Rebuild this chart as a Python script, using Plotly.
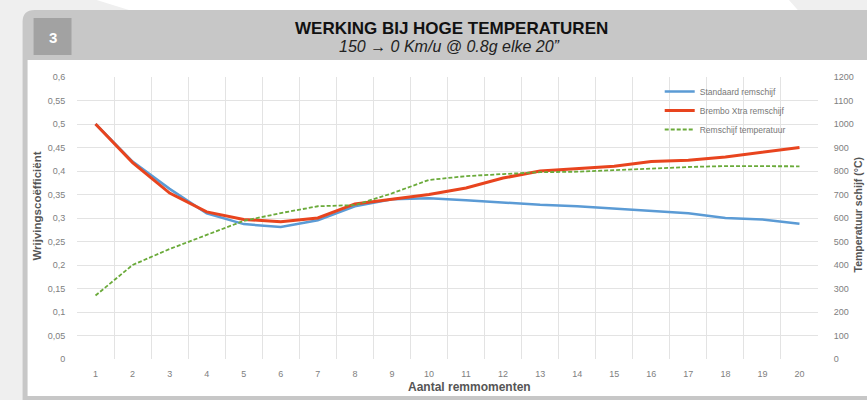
import plotly.graph_objects as go

# ---- data ----
remmomenten = list(range(1, 21))
standaard = [0.50, 0.42, 0.362, 0.31, 0.287, 0.281, 0.295, 0.325, 0.34, 0.342,
             0.338, 0.333, 0.328, 0.325, 0.32, 0.316, 0.31, 0.30, 0.297, 0.288]
brembo = [0.50, 0.418, 0.353, 0.313, 0.297, 0.292, 0.30, 0.33, 0.34, 0.35,
          0.364, 0.385, 0.40, 0.405, 0.41, 0.42, 0.423, 0.43, 0.44, 0.45]
temperatuur = [270, 400, 468, 528, 588, 621, 650, 655, 705, 762,
               778, 787, 795, 797, 804, 812, 817, 821, 821, 820]

left_tickvals = [0, 0.05, 0.1, 0.15, 0.2, 0.25, 0.3, 0.35, 0.4, 0.45, 0.5, 0.55, 0.6]
left_ticktext = ["0", "0,05", "0,1", "0,15", "0,2", "0,25", "0,3", "0,35", "0,4",
                 "0,45", "0,5", "0,55", "0,6"]
right_tickvals = list(range(0, 1300, 100))

W, H = 867, 400
L, R, T, B = 76.5, 818.5, 77, 359


def px(x):
    return (x - L) / (R - L)


def py(y):
    return (B - y) / (B - T)


fig = go.Figure()
fig.add_trace(go.Scatter(x=remmomenten, y=standaard, mode="lines", name="Standaard remschijf",
                         line=dict(color="#5b9bd5", width=2.5)))
fig.add_trace(go.Scatter(x=remmomenten, y=brembo, mode="lines", name="Brembo Xtra remschijf",
                         line=dict(color="#e8441e", width=3)))
fig.add_trace(go.Scatter(x=remmomenten, y=temperatuur, mode="lines", name="Remschijf temperatuur",
                         line=dict(color="#6aaa3a", width=1.8, dash="4px,2px"), yaxis="y2"))

shapes = [
    dict(type="path", xref="paper", yref="paper", layer="below",
         path=f"M {px(80)} {py(-5)} L {px(785)} {py(-5)} L {px(800)} {py(12)} L {px(135)} {py(12)} Z",
         fillcolor="#ffffff", line=dict(width=0)),
    dict(type="path", xref="paper", yref="paper", layer="below",
         path=(f"M {px(22)} {py(405)} L {px(22)} {py(22)} Q {px(22)} {py(10)} {px(34)} {py(10)} "
               f"L {px(870)} {py(10)} L {px(870)} {py(405)} Z"),
         fillcolor="#c7c7c7", line=dict(width=0)),
    dict(type="rect", xref="paper", yref="paper", layer="below",
         x0=px(27), x1=px(870), y0=py(396), y1=py(60),
         fillcolor="#ffffff", line=dict(width=0)),
    dict(type="rect", xref="paper", yref="paper", layer="below",
         x0=px(33), x1=px(71), y0=py(55), y1=py(18),
         fillcolor="#a2a2a2", line=dict(width=0)),
]

annotations = [
    dict(text="<b>3</b>", x=px(52), y=py(37), xref="paper", yref="paper", showarrow=False,
         xanchor="center", yanchor="middle",
         font=dict(family="Liberation Sans", size=15, color="#ffffff")),
    dict(text="<b>WERKING BIJ HOGE TEMPERATUREN</b>", x=px(452), y=py(28), xref="paper", yref="paper",
         showarrow=False, xanchor="center", yanchor="middle",
         font=dict(family="Liberation Sans", size=17, color="#111111")),
    dict(text="<i>150 → 0 Km/u @ 0.8g elke 20”</i>", x=px(450), y=py(46), xref="paper", yref="paper",
         showarrow=False, xanchor="center", yanchor="middle",
         font=dict(family="Liberation Sans", size=16, color="#222222")),
    dict(text="<b>Wrijvingscoëfficiënt</b>", x=px(36), y=py(206), xref="paper", yref="paper",
         showarrow=False, textangle=-90, xanchor="center", yanchor="middle",
         font=dict(family="Liberation Sans", size=11.5, color="#555555")),
    dict(text="<b>Temperatuur schijf (°C)</b>", x=px(859), y=py(215), xref="paper", yref="paper",
         showarrow=False, textangle=-90, xanchor="center", yanchor="middle",
         font=dict(family="Liberation Sans", size=10.5, color="#555555")),
    dict(text="<b>Aantal remmomenten</b>", x=px(470), y=py(387), xref="paper", yref="paper",
         showarrow=False, xanchor="center", yanchor="middle",
         font=dict(family="Liberation Sans", size=12, color="#555555")),
]

grid_col = "#e3e3e3"
tick_font = dict(family="Liberation Sans", size=9, color="#808080")

fig.update_layout(
    width=W, height=H,
    margin=dict(l=L, r=W - R, t=T, b=H - B, pad=0),
    paper_bgcolor="#efefef",
    plot_bgcolor="#ffffff",
    showlegend=True,
    legend=dict(x=px(660), y=py(77), xanchor="left", yanchor="top",
                bgcolor="rgba(0,0,0,0)", font=dict(family="Liberation Sans", size=8.5, color="#777777"),
                tracegroupgap=0),
    xaxis=dict(range=[0.5, 20.5], tickvals=remmomenten, ticktext=[str(v) for v in remmomenten],
               showgrid=False, zeroline=False, ticks="outside", ticklen=6, tickcolor="rgba(0,0,0,0)",
               tickfont=tick_font,
               minor=dict(tickvals=[v + 0.5 for v in range(0, 21)], showgrid=True, gridcolor=grid_col,
                          gridwidth=1, ticks="")),
    yaxis=dict(range=[0, 0.6], tickvals=left_tickvals, ticktext=left_ticktext, showgrid=True,
               gridcolor=grid_col, zeroline=False, ticks="outside", ticklen=9,
               tickcolor="rgba(0,0,0,0)", tickfont=tick_font),
    yaxis2=dict(range=[0, 1200], tickvals=right_tickvals, overlaying="y", side="right",
                showgrid=False, zeroline=False, ticks="outside", ticklen=13,
                tickcolor="rgba(0,0,0,0)", tickfont=tick_font),
    shapes=shapes,
    annotations=annotations,
)

fig.write_html("out.html", config={"displayModeBar": False},
               post_script="document.body.style.margin='0';document.body.style.padding='0';"
                           "document.body.style.overflow='hidden';")
